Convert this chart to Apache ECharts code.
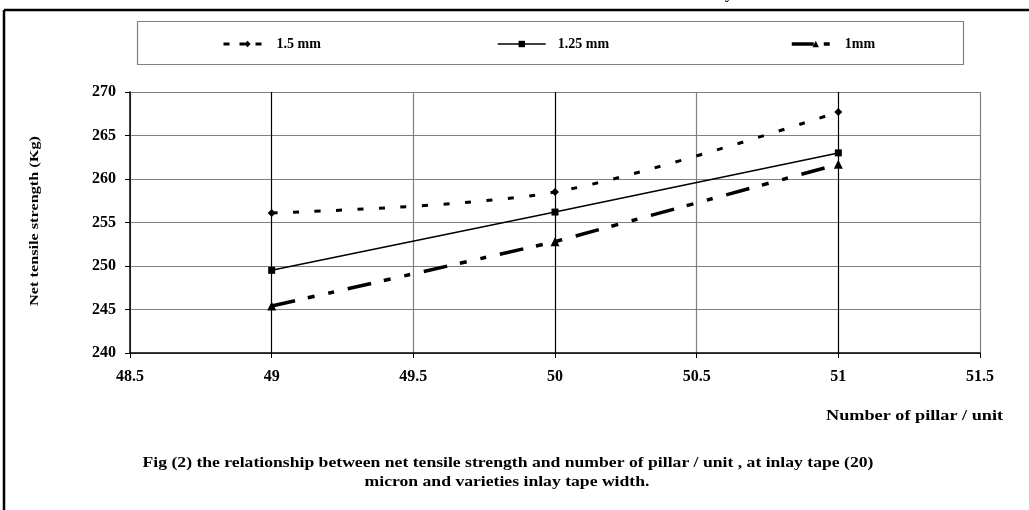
<!DOCTYPE html>
<html>
<head>
<meta charset="utf-8">
<script src="https://cdn.jsdelivr.net/npm/echarts@6/dist/echarts.min.js"></script>
<style>
html,body{margin:0;padding:0;background:#fff;}
#chart{width:1029px;height:510px;}
</style>
</head>
<body>
<div id="chart"></div>
<script>
var pillars = [49, 50, 51];
var s15 = [256.1, 258.5, 267.7];
var s125 = [249.5, 256.2, 263.0];
var s1 = [245.4, 252.8, 261.7];
var seriesNames = ['1.5 mm', '1.25 mm', '1mm'];
var xTicks = [48.5, 49, 49.5, 50, 50.5, 51, 51.5];
var yTicks = [240, 245, 250, 255, 260, 265, 270];
var yTitle = 'Net tensile strength (Kg)';
var xTitle = 'Number of pillar / unit';
var captionLines = ['Fig (2) the relationship between net tensile strength and number of pillar / unit , at inlay tape (20)',
  'micron and varieties inlay tape width.'];

function pairs(xs, ys){ return xs.map(function(x,i){ return [x, ys[i]]; }); }

var FONT = '"Liberation Serif", "Times New Roman", serif';
var chart = echarts.init(document.getElementById('chart'));

var dash15 = [6, 15.5];
var dash1 = [24, 13, 7, 14, 6, 14];

function legendAt(name, left, pad, lw, dash){
  return {
    data: [name], left: left, top: 37, padding: 0,
    itemWidth: 48, itemHeight: 8, itemGap: 0,
    lineStyle: {width: lw, type: dash},
    textStyle: {fontFamily: FONT, fontWeight: 'bold', fontSize: 14, color: '#000', padding: [0,0,0,pad]}
  };
}

var option = {
  animation: false,
  backgroundColor: '#fff',
  legend: [legendAt(seriesNames[0], 222, 0, 3, [6, 10]), legendAt(seriesNames[1], 497, 7, 1.5, 'solid'), legendAt(seriesNames[2], 790, 0, 3.5, [22, 10, 6, 20])],
  grid: {left: 130, right: 49, top: 92, bottom: 157, containLabel: false},
  xAxis: {
    type: 'value', min: xTicks[0], max: xTicks[xTicks.length-1], interval: 0.5,
    axisLine: {show: true, onZero: false, lineStyle: {color: '#000', width: 1.5}},
    axisTick: {show: true, length: 5, lineStyle: {color: '#000'}},
    axisLabel: {margin: 16, fontFamily: FONT, fontWeight: 'bold', fontSize: 16, color: '#000'},
    splitLine: {show: true, lineStyle: {color: ['#808080', '#000000'], width: 1.2}}
  },
  yAxis: {
    type: 'value', min: yTicks[0], max: yTicks[yTicks.length-1], interval: 5,
    axisLine: {show: true, lineStyle: {color: '#000', width: 1.5}},
    axisTick: {show: true, length: 5, lineStyle: {color: '#000'}},
    axisLabel: {margin: 14, fontFamily: FONT, fontWeight: 'bold', fontSize: 16, color: '#000'},
    splitLine: {show: true, lineStyle: {color: '#808080', width: 1.2}}
  },
  series: [
    {name: seriesNames[0], type: 'line', data: pairs(pillars, s15), smooth: 0.3,
     symbol: 'diamond', symbolSize: 8,
     itemStyle: {color: '#000'},
     lineStyle: {color: '#000', width: 3, type: dash15}},
    {name: seriesNames[1], type: 'line', data: pairs(pillars, s125),
     symbol: 'rect', symbolSize: 7,
     itemStyle: {color: '#000'},
     lineStyle: {color: '#000', width: 1.5, type: 'solid'}},
    {name: seriesNames[2], type: 'line', data: pairs(pillars, s1),
     symbol: 'triangle', symbolSize: 9,
     itemStyle: {color: '#000'},
     lineStyle: {color: '#000', width: 3.5, type: dash1}}
  ],
  graphic: [
    {type: 'line', shape: {x1: 4, y1: 10, x2: 1029, y2: 10}, style: {stroke: '#000', lineWidth: 2.5}},
    {type: 'line', shape: {x1: 4, y1: 10, x2: 4, y2: 510}, style: {stroke: '#000', lineWidth: 2.5}},
    {type: 'text', left: 725, top: -14, style: {text: 'y', font: 'bold 16px ' + FONT, fill: '#000'}},
    {type: 'rect', shape: {x: 137.5, y: 21.5, width: 826, height: 43}, style: {fill: 'none', stroke: '#808080', lineWidth: 1.2}, z: -1},
    {type: 'text', x: 35, y: 221, rotation: Math.PI/2, scaleX: 1.25,
     style: {text: yTitle, font: 'bold 13px ' + FONT, fill: '#000', align: 'center', verticalAlign: 'middle'}},
    {type: 'text', x: 1003, y: 416, scaleX: 1.3,
     style: {text: xTitle, font: 'bold 14px ' + FONT, fill: '#000', align: 'right', verticalAlign: 'middle'}},
    {type: 'text', x: 508, y: 463, scaleX: 1.26,
     style: {text: captionLines[0], font: 'bold 14px ' + FONT, fill: '#000', align: 'center', verticalAlign: 'middle'}},
    {type: 'text', x: 507, y: 482, scaleX: 1.26,
     style: {text: captionLines[1], font: 'bold 14px ' + FONT, fill: '#000', align: 'center', verticalAlign: 'middle'}}
  ]
};
chart.setOption(option);
</script>
</body>
</html>
